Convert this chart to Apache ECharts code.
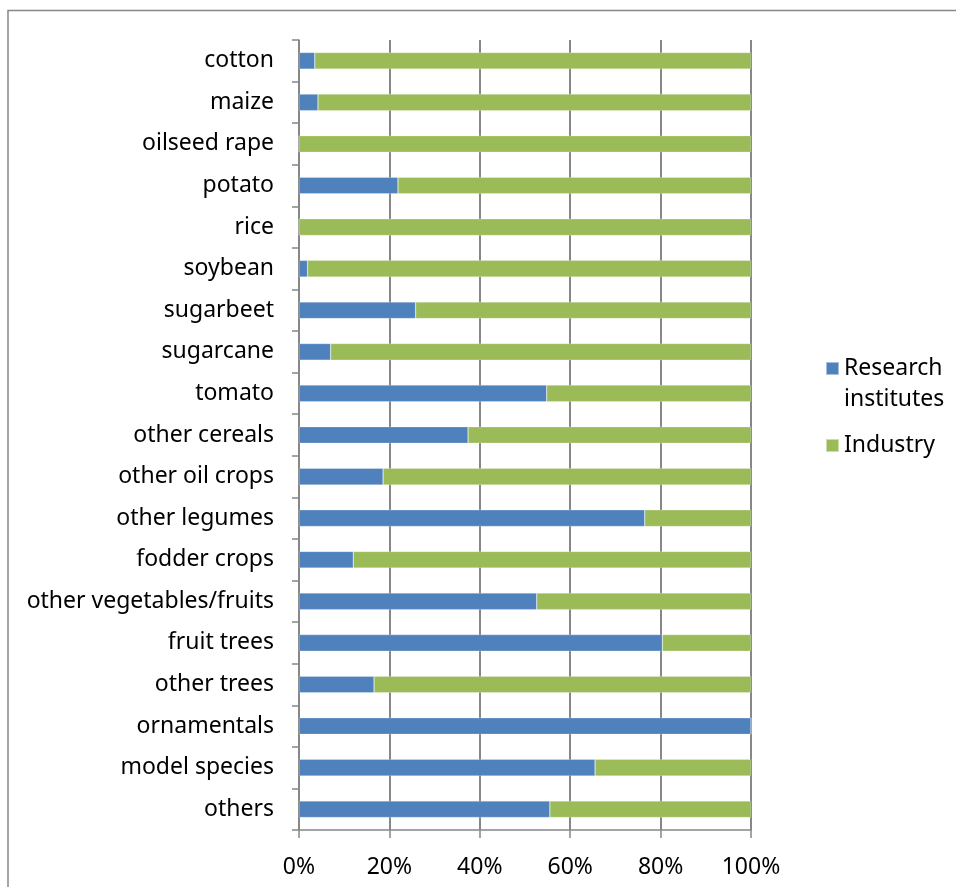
<!DOCTYPE html>
<html>
<head>
<meta charset="utf-8">
<script src="https://cdn.jsdelivr.net/npm/echarts@6/dist/echarts.min.js"></script>
<style>
  html, body { margin: 0; padding: 0; background: #fff; }
  #chart { width: 957px; height: 887px; }
</style>
</head>
<body>
<div id="chart"></div>
<script>
// Crop categories, top to bottom
const crops = [
  'cotton', 'maize', 'oilseed rape', 'potato', 'rice', 'soybean', 'sugarbeet',
  'sugarcane', 'tomato', 'other cereals', 'other oil crops', 'other legumes',
  'fodder crops', 'other vegetables/fruits', 'fruit trees', 'other trees',
  'ornamentals', 'model species', 'others'
];

// Share of projects (%) by research institutes
const researchShare = [
  3.5, 4.2, 0, 21.9, 0, 1.9, 25.8,
  7.0, 54.8, 37.4, 18.6, 76.5,
  12.0, 52.6, 80.4, 16.6,
  100, 65.5, 55.5
];

// Share of projects (%) by industry
const industryShare = [
  96.5, 95.8, 100, 78.1, 100, 98.1, 74.2,
  93.0, 45.2, 62.6, 81.4, 23.5,
  88.0, 47.4, 19.6, 83.4,
  0, 34.5, 44.5
];

const seriesNames = ['Research\ninstitutes', 'Industry'];
const axisTicks = [0, 20, 40, 60, 80, 100];

const FONT = 'Noto Sans';
const FONT_SIZE = 23;
const GRAY = '#878787';

const chart = echarts.init(document.getElementById('chart'), null, { renderer: 'canvas' });

chart.setOption({
  backgroundColor: '#ffffff',
  animation: false,
  textStyle: { fontFamily: FONT, color: '#000' },
  graphic: [{
    type: 'polyline',
    shape: { points: [[8, 887], [8, 10.5], [956, 10.5]] },
    style: { stroke: GRAY, lineWidth: 1.5, fill: null },
    silent: true
  }],
  legend: {
    orient: 'vertical',
    left: 820,
    top: 317,
    itemWidth: 13,
    itemHeight: 13,
    itemGap: 15,
    icon: 'rect',
    textStyle: { fontFamily: FONT, fontSize: FONT_SIZE, color: '#000', lineHeight: 31 },
    // a blank leading line keeps the swatch level with the first line of a wrapped name
    formatter: name => name.includes('\n') ? '\n' + name : name,
    data: seriesNames
  },
  grid: { left: 299, right: 206, top: 40, bottom: 57, containLabel: false },
  xAxis: {
    type: 'value',
    min: 0,
    max: 100,
    interval: 20,
    axisLine: { show: true, lineStyle: { color: GRAY, width: 1.5 } },
    axisTick: { show: true, length: 8, lineStyle: { color: GRAY, width: 1.5 } },
    splitLine: { show: true, lineStyle: { color: GRAY, width: 2 } },
    axisLabel: {
      fontFamily: FONT, fontSize: FONT_SIZE, color: '#000', margin: 26,
      formatter: v => axisTicks.includes(v) ? v + '%' : ''
    }
  },
  yAxis: {
    type: 'category',
    inverse: true,
    data: crops,
    axisLine: { show: true, lineStyle: { color: GRAY, width: 1.5 } },
    axisTick: { show: true, length: 7, lineStyle: { color: GRAY, width: 1.5 } },
    axisLabel: { fontFamily: FONT, fontSize: FONT_SIZE, color: '#000', margin: 25 }
  },
  series: [
    {
      name: seriesNames[0],
      type: 'bar',
      stack: 'share',
      data: researchShare,
      barCategoryGap: '60%',
      itemStyle: { color: '#4F81BD', borderColor: 'rgba(255,255,255,0.5)', borderWidth: 0.5 }
    },
    {
      name: seriesNames[1],
      type: 'bar',
      stack: 'share',
      data: industryShare,
      barCategoryGap: '60%',
      itemStyle: { color: '#9BBB59', borderColor: 'rgba(255,255,255,0.5)', borderWidth: 0.5 }
    }
  ]
});
</script>
</body>
</html>
